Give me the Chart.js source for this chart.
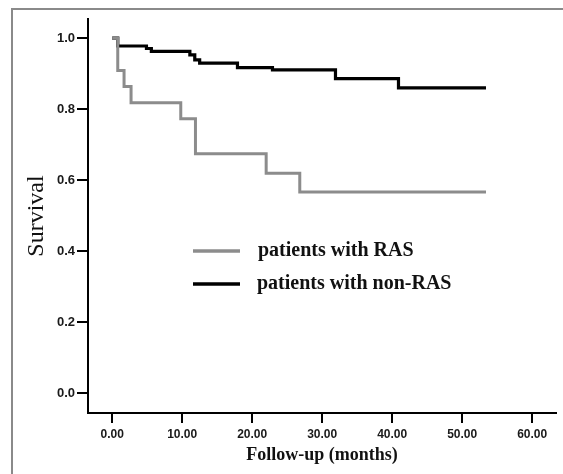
<!DOCTYPE html>
<html>
<head>
<meta charset="utf-8">
<script src="https://cdn.jsdelivr.net/npm/chart.js@4"></script>
<style>
  html, body { margin:0; padding:0; background:#fff; }
  #wrap { width:563px; height:474px; position:relative; }
</style>
</head>
<body>
<div id="wrap"><canvas id="kmChart" width="563" height="474"></canvas></div>
<script>
// Kaplan-Meier steps (months, survival)
const rasTimes  = [0, 0.8, 1.7, 2.7, 9.8, 11.9, 22.0, 26.8, 53.4];
const rasSurv   = [1, 0.909, 0.864, 0.818, 0.773, 0.675, 0.620, 0.567, 0.567];
const nonRasTimes = [0, 0.8, 4.9, 5.6, 11.1, 11.8, 12.5, 17.9, 22.9, 31.9, 40.9, 53.4];
const nonRasSurv  = [1, 0.978, 0.971, 0.963, 0.953, 0.939, 0.930, 0.917, 0.911, 0.886, 0.860, 0.860];

const xTicks = [0, 10, 20, 30, 40, 50, 60];
const yTicks = [0, 0.2, 0.4, 0.6, 0.8, 1.0];

const toPoints = (ts, vs) => ts.map((t,i)=>({x:t, y:vs[i]}));

// frame around the figure (top and left edges show)
const framePlugin = {
    id:'frame',
    beforeDraw(chart){
        const c = chart.ctx;
        c.save();
        c.fillStyle = '#fff';
        c.fillRect(0,0,chart.width,chart.height);
        c.strokeStyle = '#8a8a8a';
        c.lineWidth = 2;
        c.beginPath();
        c.moveTo(12, chart.height);
        c.lineTo(12, 9);
        c.lineTo(chart.width, 9);
        c.stroke();
        c.restore();
    }
};

// legend drawn inside the plot area
const insideLegend = {
    id:'insideLegend',
    afterDatasetsDraw(chart){
        const c = chart.ctx;
        const rows = [{y:251, tx:258}, {y:284, tx:257}];
        c.save();
        chart.data.datasets.forEach((ds,i)=>{
            const r = rows[i];
            c.strokeStyle = ds.borderColor;
            c.lineWidth = 3.5;
            c.beginPath();
            c.moveTo(193, r.y);
            c.lineTo(240, r.y);
            c.stroke();
            c.fillStyle = '#111';
            c.font = 'bold 20px "Liberation Serif", "Times New Roman", serif';
            c.textBaseline = 'middle';
            c.fillText(ds.label, r.tx, r.y);
        });
        c.restore();
    }
};

const ctx = document.getElementById('kmChart').getContext('2d');
const kmChart = new Chart(ctx, {
    type:'line',
    data:{datasets:[
        {label:'patients with RAS', data:toPoints(rasTimes, rasSurv), borderColor:'#8c8c8c', borderWidth:3, stepped:'before', pointRadius:0, fill:false},
        {label:'patients with non-RAS', data:toPoints(nonRasTimes, nonRasSurv), borderColor:'#000', borderWidth:3.2, stepped:'before', pointRadius:0, fill:false}
    ]},
    options:{
        responsive:false,
        animation:false,
        layout:{padding:{top:19, right:7, left:0, bottom:0}},
        plugins:{legend:{display:false}, tooltip:{enabled:false}},
        scales:{
            x:{
                type:'linear',
                min:-3.45, max:63.4,
                afterBuildTicks(s){ s.ticks = xTicks.map(v=>({value:v})); },
                afterFit(s){ s.height = 61; },
                grid:{drawOnChartArea:false, drawTicks:true, tickLength:10, color:'#000', lineWidth:2},
                border:{color:'#000', width:2},
                ticks:{
                    padding:4, color:'#1a1a1a', maxRotation:0, autoSkip:false,
                    font:{family:'"Liberation Sans", Arial, sans-serif', size:12, weight:'bold'},
                    callback:v=>Number(v).toFixed(2)
                },
                title:{display:true, text:'Follow-up (months)', color:'#111',
                    font:{family:'"Liberation Serif", "Times New Roman", serif', size:18, weight:'bold'},
                    padding:{top:0, bottom:8}}
            },
            y:{
                type:'linear',
                min:-0.055, max:1.054,
                afterBuildTicks(s){ s.ticks = yTicks.map(v=>({value:v})); },
                afterFit(s){ s.width = 88; },
                grid:{drawOnChartArea:false, drawTicks:true, tickLength:11, color:'#000', lineWidth:2},
                border:{color:'#000', width:2},
                ticks:{
                    padding:2, color:'#1a1a1a', autoSkip:false,
                    font:{family:'"Liberation Sans", Arial, sans-serif', size:13, weight:'bold'},
                    callback:v=>Number(v).toFixed(1)
                },
                title:{display:true, text:'Survival', color:'#111',
                    font:{family:'"Liberation Serif", "Times New Roman", serif', size:24},
                    padding:{top:22, bottom:0}}
            }
        }
    },
    plugins:[framePlugin, insideLegend]
});
</script>
</body>
</html>
